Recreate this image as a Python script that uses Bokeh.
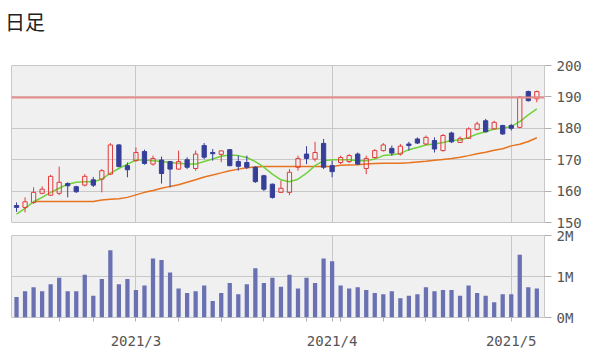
from bokeh.plotting import figure
from bokeh.models import ColumnDataSource, FixedTicker, Div, Range1d, Span
from bokeh.layouts import column
from bokeh.embed import file_html
from bokeh.resources import INLINE

nan = float("nan")

# ---- data (trading-day index 0..61, 2021/2/5 .. 2021/5/11) ----
opens = [155.4, 154.8, 156.4, 159.3, 158.7, 159.3, 162.4, 161.4, 161.9, 163.6,
         163.8, 165.4, 174.7, 168.1, 169.7, 172.6, 168.6, 169.9, 169.4, 167.0,
         170.0, 167.2, 174.5, 172.3, 171.7, 173.2, 169.4, 169.1, 167.6, 164.9,
         162.2, 159.6, 159.6, 167.6, 171.8, 170.2, 175.2, 168.1, 169.1, 169.4,
         171.8, 167.2, 170.7, 172.9, 173.6, 171.8, 175.0, 176.6, 175.0, 176.1,
         172.9, 178.5, 175.5, 176.8, 179.6, 182.4, 179.8, 180.9, 180.9, 180.3,
         191.7, 189.4]
highs = [156.4, 158.0, 161.2, 161.5, 165.2, 167.8, 162.8, 161.7, 165.4, 164.5,
         167.0, 175.3, 175.0, 169.1, 173.9, 173.2, 171.3, 171.0, 169.6, 172.9,
         170.8, 172.9, 175.3, 173.4, 173.0, 173.4, 171.3, 171.3, 167.9, 165.2,
         162.4, 163.3, 167.0, 171.3, 174.3, 175.7, 176.6, 169.7, 171.3, 171.8,
         172.3, 171.3, 173.4, 175.3, 174.5, 175.0, 175.7, 177.1, 177.7, 177.1,
         178.2, 178.9, 177.4, 180.3, 182.1, 183.0, 182.4, 181.1, 181.4, 190.2,
         192.0, 192.0]
lows = [153.4, 153.2, 155.9, 159.0, 158.5, 158.7, 158.0, 159.4, 161.5, 161.3,
        159.6, 165.1, 167.6, 164.4, 169.4, 168.4, 168.1, 162.4, 161.2, 166.8,
        167.0, 166.5, 170.2, 169.7, 169.2, 167.9, 166.5, 167.0, 162.6, 160.0,
        157.6, 159.4, 158.7, 166.5, 168.6, 169.4, 167.0, 164.4, 168.6, 168.9,
        168.3, 165.4, 170.4, 172.6, 171.3, 171.3, 172.9, 175.0, 174.7, 172.3,
        172.6, 175.3, 175.3, 176.6, 179.3, 178.7, 179.6, 177.9, 179.3, 180.0,
        188.5, 188.3]
closes = [154.8, 156.6, 159.6, 160.6, 164.7, 162.8, 161.7, 159.8, 164.7, 161.9,
          166.5, 174.7, 167.8, 166.8, 172.3, 168.8, 170.4, 165.6, 167.0, 169.4,
          167.6, 171.8, 170.8, 171.9, 172.8, 168.1, 167.9, 167.6, 163.0, 160.6,
          158.0, 160.9, 166.0, 170.4, 170.4, 172.3, 167.6, 166.2, 170.7, 171.3,
          168.6, 170.4, 172.9, 174.7, 172.1, 174.3, 174.5, 175.3, 177.1, 173.4,
          177.7, 175.7, 176.8, 179.8, 181.4, 178.9, 181.9, 178.2, 180.0, 189.9,
          188.8, 191.7]
ma_short = [152.7, 154.5, 156.6, 158.0, 159.6, 160.9, 162.2, 162.8, 163.0, 163.0,
            163.8, 165.7, 167.2, 168.6, 169.9, 169.9, 169.7, 169.4, 169.1, 168.9,
            168.6, 168.6, 169.4, 170.2, 171.1, 171.5, 171.3, 170.7, 169.4, 167.6,
            165.4, 163.6, 163.0, 163.8, 165.7, 168.1, 169.7, 170.0, 170.0, 170.0,
            169.7, 169.7, 170.2, 171.3, 171.6, 172.0, 173.2, 173.9, 174.7, 175.0,
            175.5, 176.1, 176.3, 177.1, 178.2, 178.9, 179.8, 180.0, 180.6, 182.1,
            184.3, 186.2]
ma_long = [nan, nan, 156.7, 156.7, 156.7, 156.7, 156.7, 156.7, 156.7, 156.7,
           157.2, 157.4, 157.6, 158.0, 158.8, 159.6, 160.2, 160.9, 161.5, 162.0,
           162.8, 163.6, 164.5, 165.1, 165.8, 166.5, 167.0, 167.4, 167.7, 167.8,
           167.8, 167.8, 167.8, 167.8, 167.8, 167.8, 167.8, 167.8, 168.2, 168.3,
           168.4, 168.6, 168.8, 168.9, 168.9, 168.9, 169.0, 169.3, 169.5, 169.8,
           170.1, 170.4, 170.8, 171.3, 171.9, 172.4, 173.0, 173.5, 174.4, 174.9,
           175.8, 177.0]
volumes_m = [0.50, 0.64, 0.74, 0.64, 0.81, 0.97, 0.64, 0.64, 1.04, 0.53,
             0.94, 1.64, 0.81, 0.94, 0.67, 0.78, 1.44, 1.40, 1.10, 0.71,
             0.60, 0.64, 0.78, 0.40, 0.60, 0.84, 0.57, 0.81, 1.20, 0.84,
             0.97, 0.75, 1.04, 0.71, 0.97, 0.84, 1.44, 1.37, 0.78, 0.71,
             0.74, 0.67, 0.60, 0.57, 0.64, 0.47, 0.53, 0.57, 0.74, 0.64,
             0.67, 0.67, 0.53, 0.78, 0.60, 0.53, 0.37, 0.57, 0.57, 1.53,
             0.74, 0.71]
ref_line = 189.8
month_pos = [14, 37, 58]
month_labels = ["2021/3", "2021/4", "2021/5"]
week_pos = [5, 9, 19, 24, 29, 34, 38, 43, 48, 53]
price_ticks = [150, 160, 170, 180, 190, 200]
vol_ticks = [0, 1, 2]
vol_labels = ["0M", "1M", "2M"]

UP = "#e33b3b"
DOWN = "#363f98"
BG = "#f0f0f0"
GRID = "#c8c8c8"
FONT = "DejaVu Sans Mono"

x = list(range(len(opens)))
up = [c >= o for o, c in zip(opens, closes)]
src = ColumnDataSource(dict(
    x=x, o=opens, h=highs, l=lows, c=closes,
    top=[max(o, c) for o, c in zip(opens, closes)],
    bot=[min(o, c) for o, c in zip(opens, closes)],
    col=[UP if u else DOWN for u in up],
    fa=[0.0 if u else 1.0 for u in up],
    ms=ma_short, ml=ma_long, v=volumes_m,
))

xr = Range1d(-0.59, 61.9)

title = Div(text="日足", width=584, height=30, margin=(0, 0, 0, 0),
            styles={"font-family": "Noto Sans CJK JP", "font-size": "20px",
                    "line-height": "28px", "color": "#222222",
                    "position": "relative", "left": "-3px"})

p1 = figure(width=584, height=196, x_range=xr, y_range=Range1d(150, 200),
            output_backend="svg", toolbar_location=None,
            y_axis_location="right", x_axis_location=None,
            min_border_left=3, min_border_right=48, min_border_top=27,
            min_border_bottom=12, margin=(0, 0, 0, 0))
p1.background_fill_color = BG
p1.border_fill_color = "white"
p1.outline_line_color = GRID
p1.xgrid.ticker = FixedTicker(ticks=month_pos)
p1.ygrid.ticker = FixedTicker(ticks=price_ticks[1:-1])
for g in (p1.xgrid, p1.ygrid):
    g.grid_line_color = GRID
    g.grid_line_width = 1
ax = p1.yaxis[0]
ax.ticker = FixedTicker(ticks=price_ticks)
ax.axis_line_color = None
ax.major_tick_in = 0
ax.major_tick_out = 7
ax.major_tick_line_color = "#b0b0b0"
ax.minor_tick_line_color = None
ax.major_label_standoff = 5
ax.major_label_text_font = FONT
ax.major_label_text_font_size = "14px"
ax.major_label_text_color = "#555555"

p1.add_layout(Span(location=ref_line, dimension="width", line_color="#e88c8c", line_width=2))
p1.line("x", "ml", source=src, line_color="#e8731e", line_width=1.5)
p1.line("x", "ms", source=src, line_color="#6fd23a", line_width=1.5)
p1.segment(x0="x", y0="h", x1="x", y1="top", source=src, line_color="col", line_width=1)
p1.segment(x0="x", y0="bot", x1="x", y1="l", source=src, line_color="col", line_width=1)
p1.vbar(x="x", width=0.5, top="top", bottom="bot", source=src,
        fill_color="col", fill_alpha="fa", line_color="col", line_width=1)

p2 = figure(width=584, height=126, x_range=xr, y_range=Range1d(0, 2.0),
            output_backend="svg", toolbar_location=None,
            y_axis_location="right",
            min_border_left=3, min_border_right=48, min_border_top=10,
            min_border_bottom=30, margin=(-9, 0, 0, 0))
p2.background_fill_color = BG
p2.border_fill_alpha = 0
p2.outline_line_color = GRID
p2.xgrid.ticker = FixedTicker(ticks=month_pos)
p2.ygrid.ticker = FixedTicker(ticks=[1])
for g in (p2.xgrid, p2.ygrid):
    g.grid_line_color = GRID
    g.grid_line_width = 1
p2.vbar(x="x", top="v", width=0.5, source=src, fill_color="#6a71b3", line_color=None)

ay = p2.yaxis[0]
ay.ticker = FixedTicker(ticks=vol_ticks)
ay.major_label_overrides = {t: s for t, s in zip(vol_ticks, vol_labels)}
ay.axis_line_color = None
ay.major_tick_in = 0
ay.major_tick_out = 7
ay.major_tick_line_color = "#b0b0b0"
ay.minor_tick_line_color = None
ay.major_label_standoff = 5
ay.major_label_text_font = FONT
ay.major_label_text_font_size = "14px"
ay.major_label_text_color = "#555555"

bx = p2.xaxis[0]
bx.ticker = FixedTicker(ticks=month_pos, minor_ticks=week_pos)
bx.major_label_overrides = {t: s for t, s in zip(month_pos, month_labels)}
bx.axis_line_color = None
bx.major_tick_in = 0
bx.major_tick_out = 4
bx.minor_tick_in = 0
bx.minor_tick_out = 4
bx.major_tick_line_color = "#b0b0b0"
bx.minor_tick_line_color = "#b0b0b0"
bx.major_label_standoff = 11
bx.major_label_text_font = FONT
bx.major_label_text_font_size = "14px"
bx.major_label_text_color = "#555555"

layout = column(title, p1, p2, margin=(8, 0, 0, 8))
open("out.html", "w").write(file_html(layout, INLINE))
